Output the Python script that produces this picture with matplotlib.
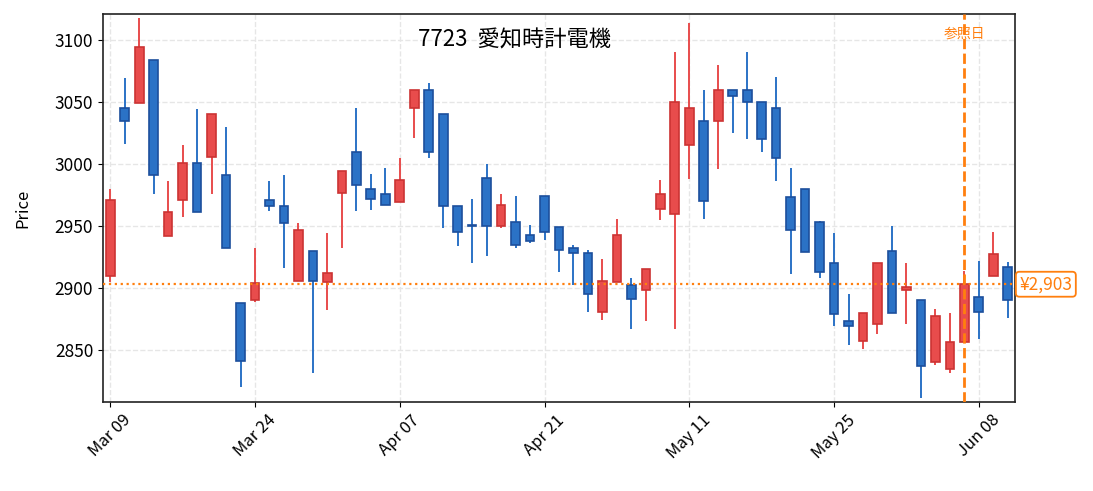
import matplotlib
matplotlib.use("Agg")
import matplotlib.pyplot as plt
from matplotlib.patches import Rectangle

plt.rcParams['font.family'] = ['Noto Sans CJK JP', 'DejaVu Sans']

# trading days, Mar 09 .. Jun 10
opens = [2910, 3045, 3049, 3084, 2942, 2971, 3001, 3006, 2991, 2888,
         2890, 2971, 2966, 2906, 2930, 2905, 2977, 3010, 2980, 2976,
         2969, 3045, 3060, 3040, 2966, 2951, 2989, 2950, 2953, 2943,
         2974, 2949, 2932, 2928, 2881, 2905, 2902, 2898, 2964, 2960,
         3015, 3035, 3035, 3060, 3060, 3050, 3045, 2973, 2980, 2953,
         2920, 2873, 2857, 2871, 2930, 2898, 2890, 2840, 2835, 2856,
         2893, 2910, 2917]
highs = [2980, 3069, 3118, 3084, 2986, 3015, 3044, 3040, 3030, 2888,
         2932, 2986, 2991, 2952, 2930, 2944, 2994, 3045, 2992, 2997,
         3005, 3060, 3065, 3040, 2966, 2972, 3000, 2976, 2974, 2951,
         2974, 2949, 2935, 2931, 2923, 2956, 2908, 2915, 2987, 3090,
         3114, 3060, 3080, 3060, 3090, 3050, 3070, 2997, 2980, 2954,
         2944, 2895, 2880, 2920, 2950, 2920, 2890, 2883, 2880, 2914,
         2922, 2945, 2921]
lows = [2905, 3016, 3049, 2976, 2942, 2957, 2961, 2976, 2932, 2820,
        2889, 2962, 2916, 2906, 2831, 2882, 2932, 2962, 2963, 2967,
        2969, 3021, 3005, 2948, 2934, 2920, 2926, 2948, 2932, 2936,
        2939, 2913, 2902, 2881, 2874, 2905, 2867, 2873, 2955, 2867,
        2988, 2956, 2996, 3025, 3020, 3010, 2986, 2911, 2929, 2908,
        2869, 2854, 2851, 2863, 2880, 2871, 2811, 2838, 2831, 2856,
        2859, 2910, 2876]
closes = [2971, 3035, 3094, 2991, 2961, 3001, 2961, 3040, 2932, 2841,
          2904, 2966, 2952, 2947, 2906, 2912, 2994, 2983, 2972, 2967,
          2987, 3060, 3010, 2966, 2945, 2950, 2950, 2967, 2935, 2938,
          2945, 2931, 2928, 2895, 2906, 2943, 2891, 2915, 2976, 3050,
          3045, 2970, 3060, 3055, 3050, 3020, 3005, 2947, 2929, 2913,
          2879, 2869, 2880, 2920, 2880, 2901, 2837, 2877, 2856, 2903,
          2881, 2927, 2890]

tick_idx = [0, 10, 20, 30, 40, 50, 60]
tick_labels = ['Mar 09', 'Mar 24', 'Apr 07', 'Apr 21', 'May 11', 'May 25', 'Jun 08']

ref_idx = 59
ref_price = 2903
title = '7723  愛知時計電機'

up_fill, up_edge = '#e84c4c', '#cc3333'
dn_fill, dn_edge = '#2b72c6', '#1c4f9c'

fig = plt.figure(figsize=(10.93, 4.91), dpi=100)
ax = fig.add_axes([103 / 1093, 89 / 491, 912 / 1093, 388 / 491])

w = 0.6
for i in range(len(opens)):
    o, h, l, c = opens[i], highs[i], lows[i], closes[i]
    up = c >= o
    fill = up_fill if up else dn_fill
    edge = up_edge if up else dn_edge
    ax.vlines(i, l, h, color=fill, linewidth=1.4, zorder=2)
    lo = min(o, c)
    ax.add_patch(Rectangle((i - w / 2, lo), w, max(abs(c - o), 0.8),
                           facecolor=fill, edgecolor=edge, linewidth=1.2, zorder=3))

ax.axhline(ref_price, color='#ff7f0e', linestyle=':', linewidth=1.6, zorder=4)
ax.axvline(ref_idx, color='#ff7f0e', linestyle='--', linewidth=2, zorder=5)
ax.text(ref_idx, 3105, '参照日', color='#ff7f0e', fontsize=10, ha='center', va='center')
ax.text(len(opens) - 0.5 + 0.3, ref_price, '¥2,903', color='#ff7f0e', fontsize=12.5,
        ha='left', va='center', clip_on=False,
        bbox=dict(boxstyle='round,pad=0.2', facecolor='white', edgecolor='#ff7f0e', linewidth=1.3))

ax.text((514 - 103) / 912, 0.933, title, transform=ax.transAxes, ha='center', va='center', fontsize=16)

ax.set_xlim(-0.5, len(opens) - 0.5)
ax.set_ylim(2808, 3121)
ax.set_yticks([2850, 2900, 2950, 3000, 3050, 3100])
ax.set_xticks(tick_idx)
ax.set_xticklabels(tick_labels, rotation=45, fontsize=12)
ax.tick_params(axis='y', labelsize=12.5)
ax.set_ylabel('Price', fontsize=12)
ax.yaxis.set_label_coords(-0.079, 0.5)
ax.grid(True, linestyle='--', color='#e6e6e6', linewidth=1)
ax.set_axisbelow(True)
for s in ax.spines.values():
    s.set_color('#222222')
    s.set_linewidth(1.2)

fig.savefig('out.png', dpi=100)
